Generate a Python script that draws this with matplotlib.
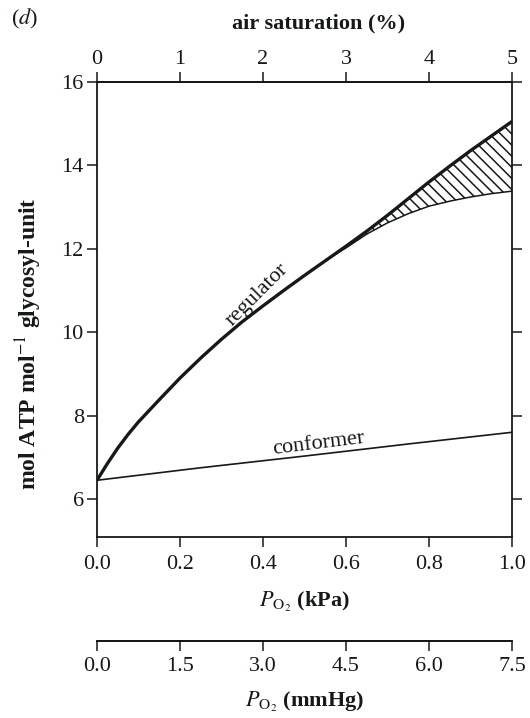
import numpy as np
import matplotlib
matplotlib.use("Agg")
import matplotlib.pyplot as plt

plt.rcParams['font.family'] = ['Liberation Serif', 'DejaVu Serif']
plt.rcParams['mathtext.fontset'] = 'stix'
plt.rcParams['hatch.linewidth'] = 1.1

# Datos (kPa en x, mol ATP / mol glycosyl-unit en y)
reg_x = [0.0, 0.025, 0.05, 0.075, 0.1, 0.15, 0.2, 0.25, 0.3, 0.35, 0.4, 0.45,
         0.5, 0.55, 0.6, 0.65, 0.7, 0.75, 0.8, 0.85, 0.9, 0.95, 1.0]
reg_y = [6.45, 6.85, 7.22, 7.55, 7.85, 8.38, 8.9, 9.38, 9.83, 10.25, 10.63, 11.0,
         11.36, 11.71, 12.06, 12.42, 12.8, 13.2, 13.6, 13.98, 14.35, 14.7, 15.05]

low_x = [0.56, 0.6, 0.65, 0.7, 0.75, 0.8, 0.85, 0.9, 0.95, 1.0]
low_y = [11.78, 12.02, 12.35, 12.62, 12.84, 13.02, 13.14, 13.24, 13.32, 13.38]

conf_x = [0.0, 0.25, 0.5, 0.75, 1.0]
conf_y = [6.45, 6.75, 7.03, 7.32, 7.6]

kpa_ticks = [0.0, 0.2, 0.4, 0.6, 0.8, 1.0]
sat_ticks = [0, 1, 2, 3, 4, 5]
mmhg_ticks = [0.0, 1.5, 3.0, 4.5, 6.0, 7.5]
y_ticks = [6, 8, 10, 12, 14, 16]

ink = '#151a17'
fs = 16

fig = plt.figure(figsize=(5.3, 7.18), dpi=100)
ax = fig.add_axes([0.183, 0.2515, 0.783, 0.6345])

# zona rayada entre la curva superior y la inferior
up_on_low = np.interp(low_x, reg_x, reg_y)
ax.fill_between(low_x, low_y, up_on_low, facecolor='white', edgecolor=ink,
                hatch='\\\\\\', linewidth=0)
ax.plot(low_x, low_y, color=ink, lw=1.1)
ax.plot(reg_x, reg_y, color=ink, lw=2.4, solid_capstyle='butt')
ax.plot(conf_x, conf_y, color=ink, lw=1.2)

ax.text(0.385, 10.9, 'regulator', rotation=45, ha='center', va='center',
        fontsize=fs, color=ink)
ax.text(0.535, 7.33, 'conformer', rotation=7, ha='center', va='center',
        fontsize=fs, color=ink)

ax.set_xlim(0, 1)
ax.set_ylim(5.08, 16)
ax.set_xticks(kpa_ticks)
ax.set_xticklabels([f'{v:.1f}' for v in kpa_ticks])
ax.set_yticks(y_ticks)
ax.tick_params(axis='both', direction='out', length=7.5, width=1.1,
               labelsize=fs, colors=ink, pad=2)
ax.tick_params(axis='x', pad=5.5)
ax.tick_params(axis='y', right=True, labelright=False)
for s in ax.spines.values():
    s.set_linewidth(1.3)
    s.set_color(ink)

ax.set_xlabel(r'$P_{\mathrm{O}_2}$ (kPa)', fontsize=fs, fontweight='bold',
              labelpad=11, color=ink)

# eje superior: saturacion de aire (1 kPa ~ 5 %)
top = ax.secondary_xaxis('top', functions=(lambda x: x * 5, lambda x: x / 5))
top.set_xticks(sat_ticks)
top.tick_params(direction='out', length=7.5, width=1.1, labelsize=fs,
                colors=ink, pad=2)
top.spines['top'].set_linewidth(1.3)
fig.text(319 / 530, 1 - 23 / 718, 'air saturation (%)', ha='center',
         va='center', fontsize=fs, fontweight='bold', color=ink)

# eje inferior extra en mmHg
mm = ax.secondary_xaxis(-0.228, functions=(lambda x: x * 7.5, lambda x: x / 7.5))
mm.set_xticks(mmhg_ticks)
mm.set_xticklabels([f'{v:.1f}' for v in mmhg_ticks])
mm.tick_params(direction='out', length=7.5, width=1.1, labelsize=fs,
               colors=ink, pad=4)
mm.spines['bottom'].set_linewidth(1.3)
mm.set_xlabel(r'$P_{\mathrm{O}_2}$ (mmHg)', fontsize=fs, fontweight='bold',
              labelpad=10, color=ink)

fig.text(0.055, 0.522, r'mol ATP mol$^{-1}$ glycosyl-unit', rotation=90,
         ha='center', va='center', fontsize=17, fontweight='bold', color=ink)
fig.text(0.047, 0.973, r'($d$)', ha='center', va='center', fontsize=fs,
         color=ink)

fig.savefig('out.png', dpi=100, facecolor='white')
